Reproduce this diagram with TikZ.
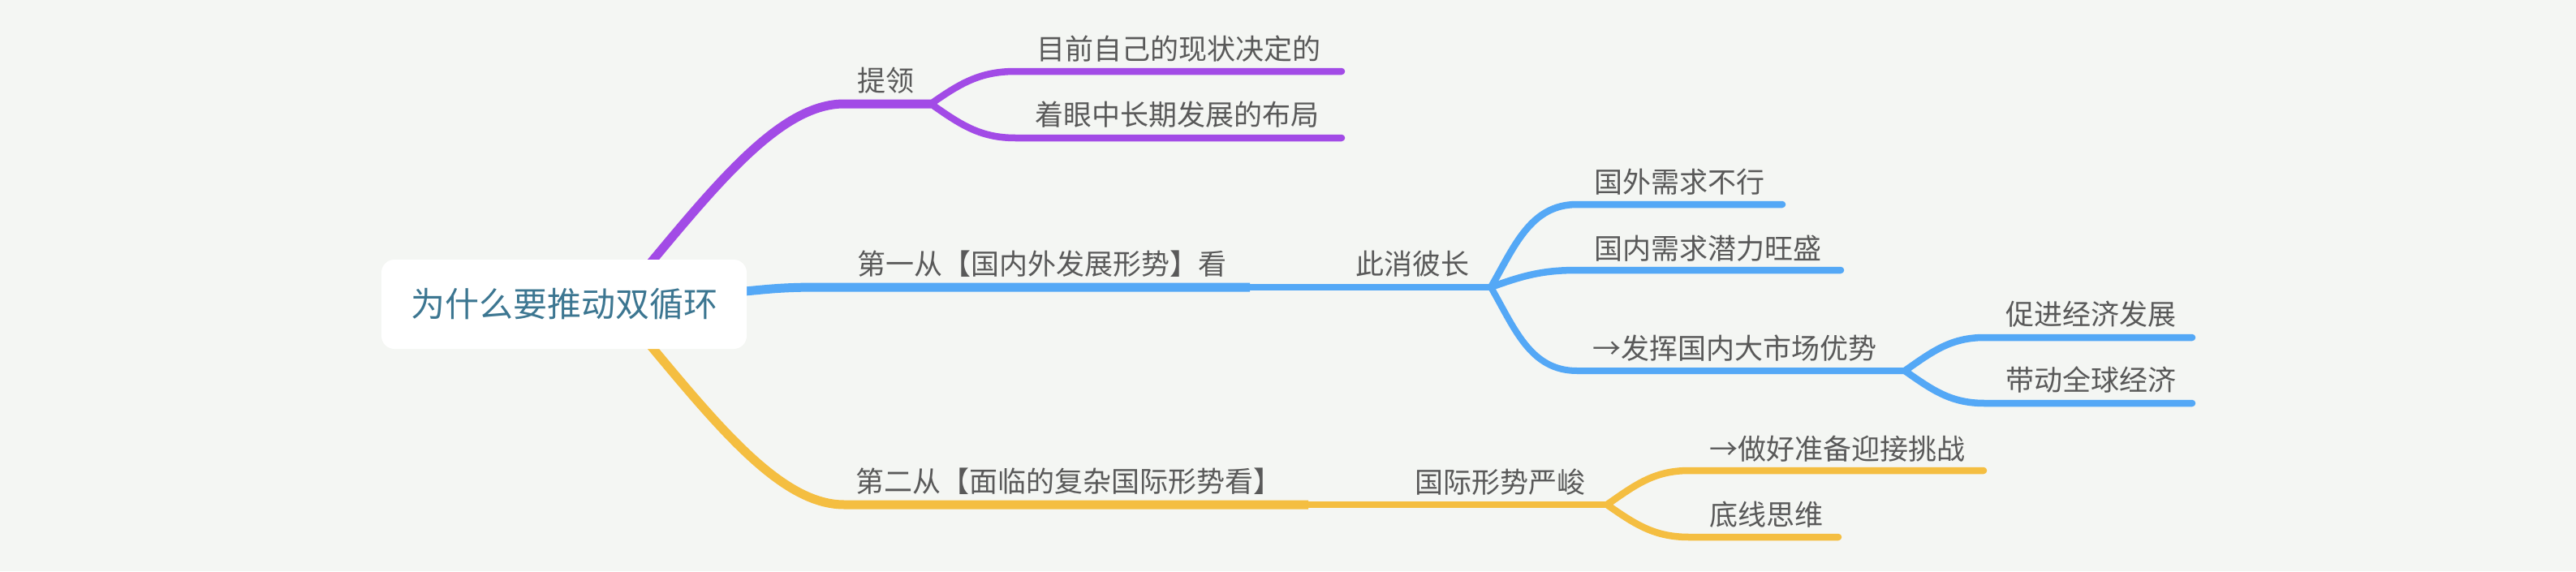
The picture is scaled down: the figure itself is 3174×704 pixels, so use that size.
\documentclass[tikz,border=0pt]{standalone}
\usepackage{fontspec}
\setmainfont{Noto Sans CJK SC}
\definecolor{bg}{RGB}{244,246,243}
\definecolor{purp}{RGB}{162,75,230}
\definecolor{blu}{RGB}{84,168,246}
\definecolor{yel}{RGB}{244,190,65}
\definecolor{txt}{RGB}{89,89,89}
\definecolor{roottxt}{RGB}{60,118,145}
\begin{document}
\begin{tikzpicture}[x=1pt,y=-1pt,
  lbl/.style={anchor=west,inner sep=0pt,text=txt,font=\fontsize{35}{40}\selectfont},
  mainline/.style={line width=11pt},
  subline/.style={line width=8pt},
  leafline/.style={line width=8.5pt,line cap=round}]
\fill[bg] (0,0) rectangle (3174,704);
\useasboundingbox (0,0) rectangle (3174,704);

% ---------- coordinates ----------
% purple
\coordinate (ps) at (780,350);
\coordinate (pa) at (1040,128);
\coordinate (pf) at (1147,128);
\coordinate (p1s) at (1251,88);  \coordinate (p1e) at (1653,88);
\coordinate (p2s) at (1251,170); \coordinate (p2e) at (1653,170);
% blue
\coordinate (bs) at (880,362);
\coordinate (ba) at (1010,354);
\coordinate (bm) at (1540,354);
\coordinate (bf) at (1837,354);
\coordinate (b1s) at (1943,252); \coordinate (b1e) at (2196,252);
\coordinate (b2s) at (1943,333); \coordinate (b2e) at (2268,333);
\coordinate (b3s) at (1943,457); \coordinate (bg2) at (2347,457);
\coordinate (b4s) at (2445,416); \coordinate (b4e) at (2701,416);
\coordinate (b5s) at (2445,497); \coordinate (b5e) at (2701,497);
% yellow
\coordinate (ys) at (780,400);
\coordinate (ya) at (1040,622);
\coordinate (ym) at (1612,622);
\coordinate (yf) at (1980,622);
\coordinate (y1s) at (2081,580); \coordinate (y1e) at (2444,580);
\coordinate (y2s) at (2081,662); \coordinate (y2e) at (2265,662);

% ---------- purple branch ----------
\draw[purp,mainline] (ps) .. controls +(100,-120) and +(-80,0) .. (pa) -- (pf);
\draw[purp,leafline] (pf) to[out=35,in=180] (p1s) -- (p1e);
\draw[purp,leafline] (pf) to[out=-35,in=180] (p2s) -- (p2e);

% ---------- blue branch ----------
\draw[blu,mainline] (bs) .. controls +(60,-4) and +(-60,0) .. (ba) -- (bm);
\draw[blu,subline] (bm) -- (bf);
\draw[blu,leafline] (bf) to[out=60,in=180] (b1s) -- (b1e);
\draw[blu,leafline] (bf) to[out=20,in=180] (b2s) -- (b2e);
\draw[blu,subline] (bf) to[out=-60,in=180] (b3s) -- (bg2);
\draw[blu,leafline] (bg2) to[out=35,in=180] (b4s) -- (b4e);
\draw[blu,leafline] (bg2) to[out=-35,in=180] (b5s) -- (b5e);

% ---------- yellow branch ----------
\draw[yel,mainline] (ys) .. controls +(100,120) and +(-80,0) .. (ya) -- (ym);
\draw[yel,subline] (ym) -- (yf);
\draw[yel,leafline] (yf) to[out=35,in=180] (y1s) -- (y1e);
\draw[yel,leafline] (yf) to[out=-35,in=180] (y2s) -- (y2e);

% ---------- root ----------
\node[fill=white,rounded corners=16pt,minimum width=450pt,minimum height=110pt,
      inner sep=0pt,text=roottxt,font=\fontsize{42}{48}\selectfont] (root) at (695,375) {为什么要推动双循环};

% ---------- labels ----------
\node[lbl] (t1) at (1056,99) {提领};
\node[lbl] (t11) at (1277,60) {目前自己的现状决定的};
\node[lbl] (t12) at (1275,141) {着眼中长期发展的布局};
\node[lbl] (t2) at (1056,325) {第一从【国内外发展形势】看};
\node[lbl] (t21) at (1670,325) {此消彼长};
\node[lbl] (t211) at (1964,224) {国外需求不行};
\node[lbl] (t212) at (1964,306) {国内需求潜力旺盛};
\node[lbl] (t213) at (1962,429) {→发挥国内大市场优势};
\node[lbl] (t2131) at (2471,387) {促进经济发展};
\node[lbl] (t2132) at (2471,468) {带动全球经济};
\node[lbl] (t3) at (1054,593) {第二从【面临的复杂国际形势看】};
\node[lbl] (t31) at (1743,594) {国际形势严峻};
\node[lbl] (t311) at (2106,553) {→做好准备迎接挑战};
\node[lbl] (t312) at (2106,634) {底线思维};
\end{tikzpicture}
\end{document}
